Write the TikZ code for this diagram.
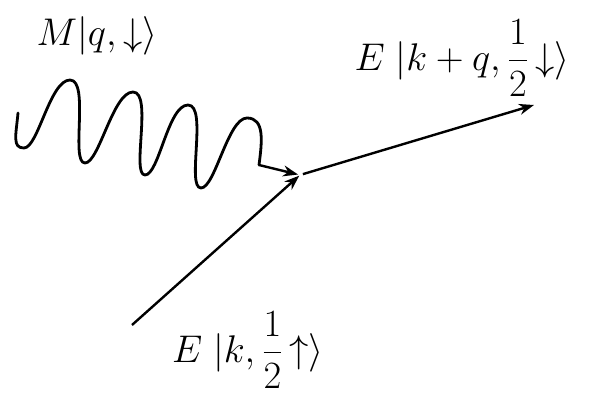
\documentclass[tikz,border=0pt]{standalone}
\usepackage{graphicx}
\usepackage{amsmath}
\usetikzlibrary{arrows.meta}
\newcommand{\biglab}[1]{\scalebox{1.55}{\Huge #1}}
\begin{document}
\begin{tikzpicture}[x=1pt,y=-1pt,
  wave/.style={line width=2.8pt,line cap=round,line join=round},
  lineto/.style={line width=2.4pt,-{Stealth[length=15pt,width=11pt]}},
  lab/.style={inner sep=0pt}]
\useasboundingbox (0,0) rectangle (595,396);
\coordinate (V) at (300,175);
\coordinate (Win) at (18,113);
\coordinate (Wc) at (259,165);
\coordinate (Ein) at (132,325);
\coordinate (Eout) at (534,105);
\draw[wave] (Win) .. controls (16,135) and (12,148) .. (24,148)
 .. controls (38,148) and (50,80) .. (70,80)
 .. controls (90,80) and (70,163) .. (85,163)
 .. controls (99,163) and (113,92) .. (133,92)
 .. controls (153,92) and (131,175) .. (145,175)
 .. controls (159,175) and (168,105) .. (188,105)
 .. controls (208,105) and (186,188) .. (201,188)
 .. controls (215,188) and (228,118) .. (247,118)
 .. controls (265,118) and (262,142) .. (Wc);
\draw[lineto,shorten >=2pt] (Wc) -- (V);
\draw[lineto,shorten >=1pt] (Ein) -- (V);
\draw[lineto,shorten <=3pt] (V) -- (Eout);
\node[lab] (M) at (97,36) {\biglab{$M|q,{\downarrow}\rangle$}};
\node[lab] (E1) at (462,58) {\biglab{$E\;|k+q,\dfrac{1}{2}\,{\downarrow}\rangle$}};
\node[lab] (E2) at (248,350) {\biglab{$E\;|k,\dfrac{1}{2}\,{\uparrow}\rangle$}};
\end{tikzpicture}
\end{document}
